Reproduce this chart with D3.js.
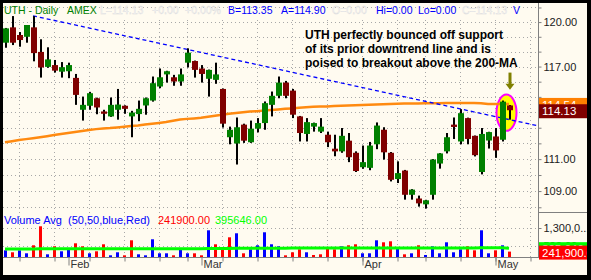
<!DOCTYPE html>
<html>
<head>
<meta charset="utf-8">
<script src="https://cdn.jsdelivr.net/npm/d3@7"></script>
<style>
  body { margin: 0; background: #000; }
  svg { display: block; font-family: "Liberation Sans", Arial, sans-serif; }
</style>
</head>
<body>
<div id="chart"></div>
<script>
// UTH daily, Jan 19 - May 3 2006
const dates = [
  "2006-01-19","2006-01-20","2006-01-23","2006-01-24","2006-01-25","2006-01-26","2006-01-27","2006-01-30","2006-01-31",
  "2006-02-01","2006-02-02","2006-02-03","2006-02-06","2006-02-07","2006-02-08","2006-02-09","2006-02-10","2006-02-13",
  "2006-02-14","2006-02-15","2006-02-16","2006-02-17","2006-02-21","2006-02-22","2006-02-23","2006-02-24","2006-02-27","2006-02-28",
  "2006-03-01","2006-03-02","2006-03-03","2006-03-06","2006-03-07","2006-03-08","2006-03-09","2006-03-10","2006-03-13",
  "2006-03-14","2006-03-15","2006-03-16","2006-03-17","2006-03-20","2006-03-21","2006-03-22","2006-03-23","2006-03-24",
  "2006-03-27","2006-03-28","2006-03-29","2006-03-30","2006-03-31",
  "2006-04-03","2006-04-04","2006-04-05","2006-04-06","2006-04-07","2006-04-10","2006-04-11","2006-04-12","2006-04-13",
  "2006-04-17","2006-04-18","2006-04-19","2006-04-20","2006-04-21","2006-04-24","2006-04-25","2006-04-26","2006-04-27","2006-04-28",
  "2006-05-01","2006-05-02","2006-05-03"
];
const open = [
  118.60,119.64,119.12,119.00,119.64,117.98,116.98,117.10,116.66,116.69,
  116.25,114.16,114.42,114.91,114.05,113.73,114.16,114.42,113.73,113.88,
  114.44,114.76,115.68,116.48,116.29,116.01,117.26,117.37,116.87,116.19,
  116.12,115.52,112.39,111.99,113.20,112.07,112.94,113.30,114.48,115.07,
  115.94,115.41,113.73,112.60,113.07,112.75,112.55,111.66,111.49,112.17,
  111.40,110.49,110.45,111.94,112.87,111.40,109.75,110.28,108.77,108.54,
  108.18,108.77,110.72,111.49,113.20,112.12,113.62,112.48,110.19,112.18,
  112.44,112.23,114.44
];
const high = [
  119.60,120.41,119.32,119.80,120.41,118.83,118.29,117.44,117.30,117.26,
  116.51,115.02,115.33,114.95,114.16,114.96,115.52,114.45,114.09,114.76,
  114.96,116.34,116.87,116.72,116.45,116.87,118.22,117.40,117.10,116.80,
  117.26,115.55,113.07,113.66,113.26,113.46,113.62,114.70,115.35,116.34,
  116.05,115.52,113.76,113.62,113.33,113.62,112.75,112.55,112.98,112.66,
  111.49,111.86,112.09,113.34,113.03,111.45,110.86,110.32,109.12,108.72,
  108.46,111.00,111.38,112.66,113.66,114.20,113.65,112.50,112.98,112.74,
  112.98,114.76,114.47
];
const low = [
  118.26,118.44,118.33,118.60,117.35,116.27,116.92,116.60,116.27,116.23,
  114.48,113.46,114.16,113.87,113.46,113.70,113.52,113.90,112.39,113.42,
  113.84,114.69,115.57,115.94,115.73,115.73,116.94,116.27,115.94,115.02,
  115.86,113.01,111.94,110.66,112.03,112.03,112.70,112.87,113.73,114.91,
  114.91,113.62,112.12,112.12,112.75,112.66,111.76,111.18,111.40,110.81,
  110.19,110.39,110.30,111.63,110.97,109.60,109.50,108.47,108.47,108.04,
  107.92,108.47,110.40,111.36,112.28,111.94,111.94,111.17,110.04,111.67,
  111.08,112.12,113.52
];
const close = [
  119.57,118.60,118.78,119.80,117.90,116.94,117.48,116.73,116.96,117.10,
  115.13,114.48,115.24,114.31,113.90,114.48,114.50,114.22,113.98,114.22,
  114.91,115.90,116.29,116.69,116.01,116.48,117.93,116.78,116.51,116.78,
  116.48,113.26,112.87,113.03,112.17,112.94,113.30,114.59,115.07,115.94,
  115.07,113.84,112.66,113.36,113.30,113.07,112.07,111.49,112.48,111.12,
  110.25,110.81,111.86,113.14,111.43,109.70,110.12,108.77,109.09,108.24,
  108.43,110.97,111.36,112.39,113.05,113.94,112.28,111.25,112.60,112.72,
  111.55,114.69,114.13
];
const ma200 = [
  112.07,112.14,112.21,112.27,112.33,112.39,112.46,112.53,112.60,112.66,
  112.72,112.79,112.86,112.91,112.95,112.98,113.02,113.06,113.11,113.15,
  113.21,113.26,113.31,113.37,113.45,113.53,113.57,113.60,113.64,113.71,
  113.77,113.84,113.90,113.95,114.00,114.04,114.07,114.11,114.15,114.18,
  114.22,114.25,114.29,114.33,114.35,114.37,114.38,114.40,114.42,114.44,
  114.46,114.47,114.48,114.50,114.52,114.54,114.55,114.56,114.56,114.57,
  114.58,114.59,114.59,114.60,114.60,114.60,114.60,114.60,114.59,114.54,
  114.54,114.54,114.54
];
const volume = [
  300000,211000,298000,166000,525000,1377000,121000,480000,256000,390000,
  614000,480000,166000,256000,570000,76000,211000,76000,749000,121000,
  76000,794000,166000,166000,76000,345000,166000,166000,76000,1197000,
  570000,390000,883000,1063000,166000,345000,525000,1108000,570000,480000,
  76000,211000,345000,211000,90000,121000,390000,345000,480000,525000,
  570000,166000,166000,749000,659000,704000,435000,121000,166000,525000,
  90000,480000,166000,659000,211000,345000,480000,300000,1197000,166000,
  300000,525000,241900
];
const avgVolume = [
  355000,355000,355000,355000,355000,370000,370000,370000,370000,370000,
  370000,370000,370000,370000,370000,370000,370000,370000,370000,370000,
  370000,370000,370000,370000,370000,370000,370000,370000,370000,380000,
  380000,380000,380000,395000,395000,395000,395000,395000,395000,395000,
  395000,400000,400000,400000,400000,400000,400000,400000,400000,400000,
  400000,400000,400000,400000,400000,400000,400000,400000,400000,400000,
  400000,400000,400000,400000,400000,400000,400000,400000,420000,420000,
  420000,420000,395646
];
// downtrend line: [bar index, price]
const trendLine = [[4, 120.43], [76.14, 113.12]];
const priceTicks = [108, 109, 110, 111, 112, 113, 114, 115, 116, 117, 118, 119, 120, 121];
const priceLabels = [109, 111, 114, 117, 120];
const volTicks = [500000, 1300000];
const volTickLabels = ["500,00...", "1,300,0..."];
const highlight = { from: 71, to: 72, hi: 115.15, lo: 112.8 };
const arrowAt = { bar: 72, top: 116.6, tip: 115.46 };
const note = [
  "UTH perfectly bounced off support",
  "of its prior downtrend line and is",
  "poised to breakout above the 200-MA"
];

const W = 591, H = 280;
const padL = 3, axisX = 538, plotTop = 4, priceBottom = 212, volBottom = 257;

const x = d3.scaleLinear().domain([0, dates.length - 1]).range([5, 5 + 7 * (dates.length - 1)]);
const y = d3.scaleLog().domain([107.71, 121.24]).range([priceBottom, plotTop]);
const yv = d3.scaleLinear().domain([0, 1300000]).range([volBottom, 228]);

const parse = d3.timeParse("%Y-%m-%d");
const days = dates.map(parse);
const weekIdx = [];
const monthIdx = [];
days.forEach((d, i) => {
  if (i > 0 && d.getDay() <= days[i - 1].getDay()) weekIdx.push(i);
  if (i > 0 && d.getMonth() !== days[i - 1].getMonth()) monthIdx.push(i);
});
weekIdx.push(weekIdx[weekIdx.length - 1] + 5);

const svg = d3.select("#chart").append("svg").attr("width", W).attr("height", H);
svg.append("rect").attr("width", W).attr("height", H).attr("fill", "#000");
svg.append("rect").attr("x", 3).attr("y", 3).attr("width", 584).attr("height", 272).attr("fill", "#fffbf0");

svg.append("clipPath").attr("id", "plotClip")
  .append("rect").attr("x", padL).attr("y", 3).attr("width", axisX - padL).attr("height", volBottom - 3);

const plot = svg.append("g").attr("clip-path", "url(#plotClip)");

// grid
plot.selectAll(".hgrid").data(priceTicks).enter().append("line")
  .attr("x1", padL).attr("x2", axisX)
  .attr("y1", d => Math.round(y(d)) + 0.5).attr("y2", d => Math.round(y(d)) + 0.5)
  .attr("stroke", "#a8a8a8").attr("stroke-dasharray", "1,3");
plot.selectAll(".vgridv").data(volTicks).enter().append("line")
  .attr("x1", padL).attr("x2", axisX)
  .attr("y1", d => Math.round(yv(d)) + 0.5).attr("y2", d => Math.round(yv(d)) + 0.5)
  .attr("stroke", "#a8a8a8").attr("stroke-dasharray", "1,3");
plot.selectAll(".vgrid").data(weekIdx).enter().append("line")
  .attr("x1", d => x(d) + 0.5).attr("x2", d => x(d) + 0.5)
  .attr("y1", 20).attr("y2", volBottom)
  .attr("stroke", "#a8a8a8").attr("stroke-dasharray", "1,3");

// highlight ellipse
plot.append("ellipse")
  .attr("cx", (x(highlight.from) + x(highlight.to)) / 2 + 1)
  .attr("cy", (y(highlight.hi) + y(highlight.lo)) / 2)
  .attr("rx", (x(highlight.to) - x(highlight.from)) / 2 + 6.5)
  .attr("ry", (y(highlight.lo) - y(highlight.hi)) / 2)
  .attr("fill", "#ffff00").attr("stroke", "#ff00ff").attr("stroke-width", 2);

// 200-day MA
plot.append("path")
  .datum(ma200)
  .attr("d", d3.line().x((d, i) => x(i)).y(d => y(d)))
  .attr("fill", "none").attr("stroke", "#ff8a10").attr("stroke-width", 2.5);

// downtrend line
plot.append("path")
  .datum(trendLine)
  .attr("d", d3.line().x(d => x(d[0])).y(d => y(d[1])))
  .attr("fill", "none").attr("stroke", "#0000ff").attr("stroke-width", 1.3)
  .attr("stroke-dasharray", "4,3");

// candles
const candle = plot.selectAll(".candle").data(dates).enter().append("g");
candle.append("rect")
  .attr("x", (d, i) => x(i))
  .attr("y", (d, i) => y(high[i]))
  .attr("width", 2)
  .attr("height", (d, i) => y(low[i]) - y(high[i]))
  .attr("fill", "#000");
candle.append("rect")
  .attr("x", (d, i) => x(i) - 2)
  .attr("y", (d, i) => y(Math.max(open[i], close[i])))
  .attr("width", 6)
  .attr("height", (d, i) => Math.max(2, Math.abs(y(open[i]) - y(close[i]))))
  .attr("fill", (d, i) => close[i] >= open[i] ? "#008000" : "#800000");

// volume
plot.selectAll(".vol").data(volume).enter().append("rect")
  .attr("x", (d, i) => x(i) - 1)
  .attr("y", d => yv(d))
  .attr("width", 3)
  .attr("height", d => volBottom - yv(d))
  .attr("fill", (d, i) => (i === 0 || close[i] >= close[i - 1]) ? "#0000ff" : "#ff0000");

plot.append("path")
  .datum(avgVolume)
  .attr("d", d3.line().x((d, i) => x(i)).y(d => yv(d)))
  .attr("fill", "none").attr("stroke", "#00ff00").attr("stroke-width", 3);

// arrow
const ax = x(arrowAt.bar) + 1;
const aTop = y(arrowAt.top), aTip = y(arrowAt.tip);
svg.append("rect").attr("x", ax - 1.5).attr("y", aTop).attr("width", 3).attr("height", aTip - aTop - 5)
  .attr("fill", "#808000");
svg.append("path")
  .attr("d", `M${ax - 4.5},${aTip - 6}L${ax + 4.5},${aTip - 6}L${ax},${aTip}Z`)
  .attr("fill", "#808000");

// note
svg.append("g").selectAll("text").data(note).enter().append("text")
  .attr("x", 305).attr("y", (d, i) => 39 + i * 14)
  .attr("font-size", 12).attr("font-weight", "bold").attr("fill", "#000")
  .text(d => d);

// header
const header = svg.append("g").attr("font-size", 10.5);
const headerItems = [
  ["UTH - Daily", 4, "#008000"], ["AMEX", 67, "#008000"],
  ["L=114.13", 100, "pale"], ["+0.00", 152, "pale"], ["+0.00%", 185, "pale"],
  ["B=113.35", 228, "#0000ff"], ["A=114.90", 281, "#0000ff"],
  ["O=0.00", 332, "pale"], ["Hi=0.00", 376, "#0000ff"], ["Lo=0.00", 418, "#0000ff"],
  ["C=114.13", 462, "pale"], ["V", 513, "#0000ff"]
];
header.selectAll("text").data(headerItems).enter().append("text")
  .attr("x", d => d[1]).attr("y", 14)
  .attr("fill", d => d[2] === "pale" ? "#ffffff" : d[2])
  .attr("stroke", d => d[2] === "pale" ? "#d8d8d8" : "none")
  .attr("stroke-width", 0.4)
  .text(d => d[0]);

const volHeader = [
  ["Volume Avg  (50,50,blue,Red)", 4, "#0000ff"],
  ["241900.00", 158, "#ff0000"],
  ["395646.00", 215, "#00ff00"]
];
svg.append("g").attr("font-size", 11).selectAll("text").data(volHeader).enter().append("text")
  .attr("x", d => d[1]).attr("y", 224).attr("fill", d => d[2])
  .attr("xml:space", "preserve")
  .text(d => d[0]);

// axes
svg.append("line").attr("x1", axisX + 0.5).attr("x2", axisX + 0.5).attr("y1", 3).attr("y2", volBottom + 1)
  .attr("stroke", "#808080");
svg.append("line").attr("x1", axisX).attr("x2", 587).attr("y1", priceBottom + 0.5).attr("y2", priceBottom + 0.5)
  .attr("stroke", "#808080");
svg.append("line").attr("x1", padL).attr("x2", axisX).attr("y1", volBottom + 0.5).attr("y2", volBottom + 0.5)
  .attr("stroke", "#808080");

const yAxis = svg.append("g")
  .attr("transform", "translate(" + (axisX + 0.5) + ",0)")
  .call(d3.axisRight(y).tickValues(priceTicks).tickSize(3).tickPadding(2)
    .tickFormat(d => priceLabels.includes(d) ? d.toFixed(2) : ""));
const vAxis = svg.append("g")
  .attr("transform", "translate(" + (axisX + 0.5) + ",0)")
  .call(d3.axisRight(yv).tickValues(volTicks).tickSize(3).tickPadding(2)
    .tickFormat((d, i) => volTickLabels[i]));

const weekAxis = svg.append("g")
  .attr("transform", "translate(0," + (volBottom + 0.5) + ")")
  .call(d3.axisBottom(x).tickValues(weekIdx).tickSize(4).tickFormat(""));
const monthAxis = svg.append("g")
  .attr("transform", "translate(0," + (volBottom + 0.5) + ")")
  .call(d3.axisBottom(x).tickValues(monthIdx).tickSize(8).tickPadding(0)
    .tickFormat(i => d3.timeFormat("%b")(days[i])));

[yAxis, vAxis, weekAxis, monthAxis].forEach(g => {
  g.select(".domain").remove();
  g.selectAll(".tick line").attr("stroke", "#808080");
  g.selectAll(".tick text").attr("fill", "#202020").attr("font-size", 11)
    .attr("font-family", "Liberation Sans, Arial, sans-serif");
});
weekAxis.selectAll(".tick line").attr("transform", "translate(0.5,0)");
monthAxis.selectAll(".tick line").attr("transform", "translate(0.5,0)");
monthAxis.selectAll(".tick text").attr("text-anchor", "start").attr("x", 2).attr("y", 3).attr("dy", "0.71em")
  .attr("fill", "#333");

// value labels on right axis
const tags = [
  [y(ma200[ma200.length - 1]), "#ff8000", ma200[ma200.length - 1].toFixed(2)],
  [y(close[close.length - 1]), "#800000", close[close.length - 1].toFixed(2)],
  [yv(avgVolume[avgVolume.length - 1]), "#00ff00", d3.format(",.2f")(avgVolume[avgVolume.length - 1])],
  [yv(volume[volume.length - 1]), "#ff0000", d3.format(",.2f")(volume[volume.length - 1])]
];
const tag = svg.append("g").selectAll("g").data(tags).enter().append("g");
tag.append("rect")
  .attr("x", axisX + 1).attr("y", d => d[0] - 6).attr("width", 52).attr("height", 14)
  .attr("fill", d => d[1]);
tag.append("text")
  .attr("x", axisX + 4).attr("y", d => d[0] + 5)
  .attr("font-size", 11.5).attr("fill", "#fff")
  .text(d => d[2]);

// outer frame
svg.append("path")
  .attr("d", `M0,0H${W}V${H}H0Z M3,3V275H587V3Z`)
  .attr("fill", "#000").attr("fill-rule", "evenodd");
</script>
</body>
</html>
